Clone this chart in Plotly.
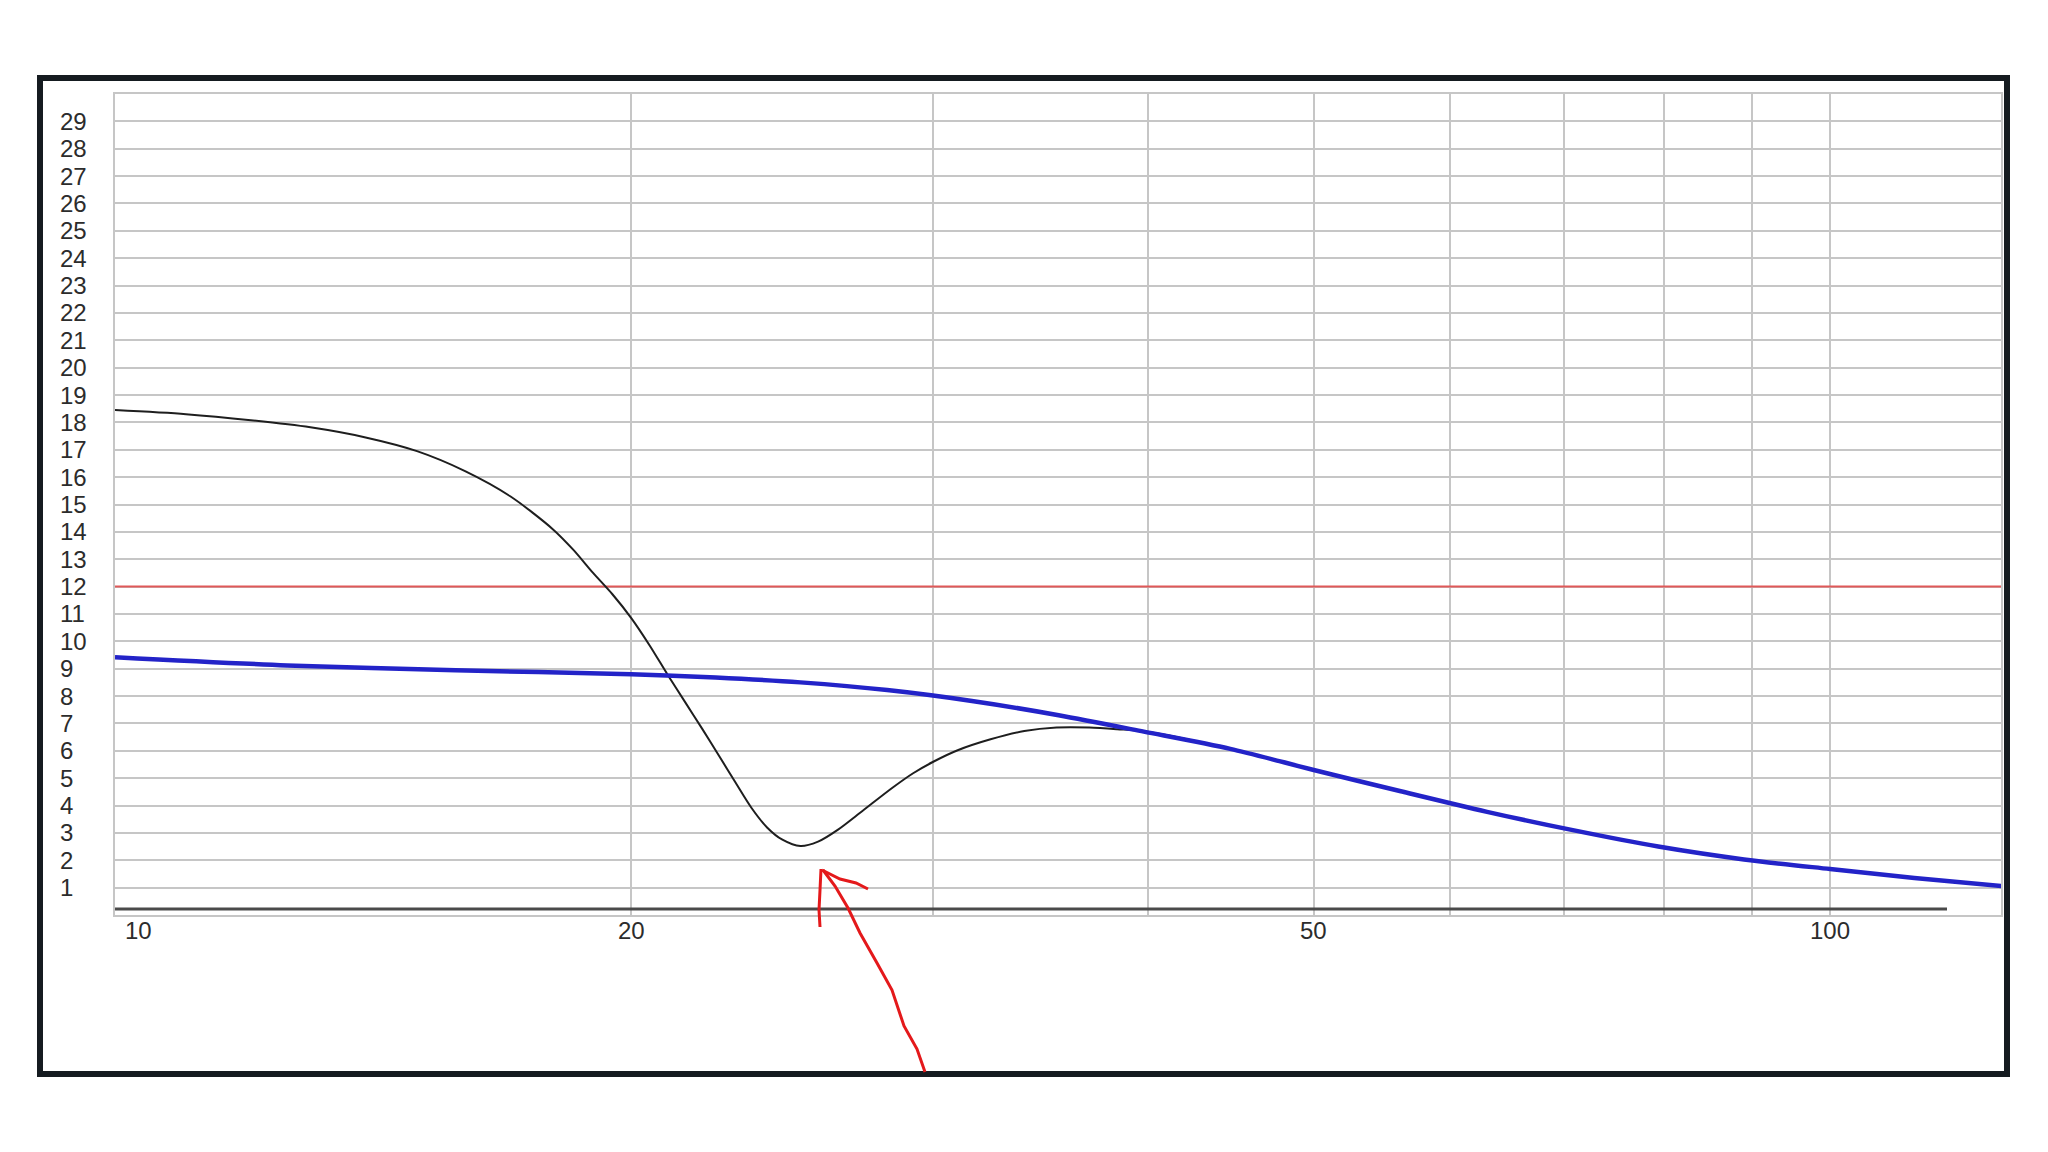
import numpy as np
import plotly.graph_objects as go

# ---- data ----
freq_black = [10, 11, 12, 13, 14, 15, 16, 17, 18, 18.5, 19, 19.5, 20, 20.5, 21, 21.5, 22, 22.5,
              23, 23.5, 24, 24.5, 25.1, 25.7, 26.4, 27.3, 28.4, 29.2, 30, 31, 32.4, 33.9, 35.4,
              37, 38.4, 40, 44.7, 50, 56.2, 63.1, 70.8, 79.4, 89.1, 100, 112, 126]
val_black = [18.45, 18.3, 18.08, 17.82, 17.45, 16.95, 16.22, 15.3, 14.1, 13.35, 12.5, 11.72,
             10.85, 9.85, 8.78, 7.78, 6.8, 5.82, 4.85, 3.92, 3.2, 2.75, 2.52, 2.68, 3.12, 3.82,
             4.65, 5.18, 5.6, 6.02, 6.42, 6.72, 6.85, 6.85, 6.79, 6.7, 6.07, 5.3, 4.52, 3.77,
             3.1, 2.5, 2.03, 1.68, 1.355, 1.055]

freq_blue = [10, 12.6, 15.8, 20, 22.4, 25.1, 28.2, 31.6, 35.5, 39.8, 44.7, 50, 56.2, 63.1, 70.8,
             79.4, 89.1, 100, 112, 126]
val_blue = [9.42, 9.12, 8.94, 8.8, 8.68, 8.5, 8.22, 7.82, 7.3, 6.7, 6.07, 5.3, 4.52, 3.77, 3.1,
            2.5, 2.03, 1.68, 1.355, 1.055]

red_freq = [10, 126]
red_level = 12

y_tick_vals = list(range(1, 30))
x_grid_vals = [10, 20, 30, 40, 50, 60, 70, 80, 90, 100]
x_label_vals = [10, 20, 50, 100]
x_label_text = ["10", "20", "50", "100"]

# ---- layout constants (pixels) ----
W, H = 2048, 1152
L, R, T, B = 115, 2001, 94, 915
PW, PH = R - L, B - T


def px(x):
    return (x - L) / PW


def py(y):
    return (B - y) / PH


FONT = dict(family="Liberation Sans, Arial, sans-serif", size=24, color="#2c2c2c")
GRID = "#c6c6c6"

fig = go.Figure()
fig.add_trace(go.Scatter(x=red_freq, y=[red_level] * len(red_freq), mode="lines",
                         line=dict(color="#e05858", width=2), hoverinfo="skip"))
fig.add_trace(go.Scatter(x=freq_black, y=val_black, mode="lines",
                         line=dict(color="#1e1e1e", width=2, shape="spline", smoothing=0.8)))
fig.add_trace(go.Scatter(x=freq_blue, y=val_blue, mode="lines",
                         line=dict(color="#2323c8", width=4.5, shape="spline", smoothing=0.8)))

annotations = []
for v in y_tick_vals:
    annotations.append(dict(x=px(59), xref="paper", y=v, yref="y", text=str(v),
                            xanchor="left", yanchor="middle", showarrow=False, font=FONT,
                            borderpad=0))
for v, t in zip(x_label_vals, x_label_text):
    annotations.append(dict(x=np.log10(v), xref="x", y=py(930), yref="paper", text=t,
                            xanchor="center", yanchor="middle", showarrow=False, font=FONT,
                            borderpad=0, xshift=23 if v == x_label_vals[0] else 0))

# hand-drawn red arrow (pixel coordinates of the decoration)
arrow_main = [(925, 1072), (917, 1049), (904, 1026), (892, 990), (877, 963), (860, 933),
              (848, 908), (835, 886), (823, 870)]
arrow_left = [(821, 869), (820, 890), (819, 910), (820, 927)]
arrow_right = [(822, 870), (840, 879), (856, 883), (868, 889)]


def path_of(pts):
    return "M " + " L ".join(f"{px(a):.5f},{py(b):.5f}" for a, b in pts)


shapes = [
    # outer dark frame
    dict(type="rect", xref="paper", yref="paper", x0=px(40), x1=px(2007), y0=py(1074), y1=py(78),
         line=dict(color="#151b20", width=6), layer="above"),
    # dark baseline
    dict(type="line", xref="paper", yref="paper", x0=0, x1=px(1947), y0=py(909), y1=py(909),
         line=dict(color="#4a4a4a", width=3), layer="above"),
]
for pts in (arrow_main, arrow_left, arrow_right):
    shapes.append(dict(type="path", xref="paper", yref="paper", path=path_of(pts),
                       line=dict(color="#e4191b", width=3), layer="above"))

fig.update_layout(
    width=W, height=H,
    margin=dict(l=L, r=W - R, t=T, b=H - B, pad=0),
    paper_bgcolor="white", plot_bgcolor="white",
    showlegend=False,
    annotations=annotations,
    shapes=shapes,
    xaxis=dict(type="log", range=[1, 1 + PW / 1715], tickvals=x_grid_vals, showticklabels=False,
               ticks="", showgrid=True, gridcolor=GRID, gridwidth=2, zeroline=False,
               showline=True, linecolor=GRID, linewidth=2, mirror=True),
    yaxis=dict(range=[0, 30], tickvals=list(range(0, 31)), showticklabels=False, ticks="",
               showgrid=True, gridcolor=GRID, gridwidth=2, zeroline=False,
               showline=True, linecolor=GRID, linewidth=2, mirror=True),
)

fig.write_html("out.html", config={"displayModeBar": False},
               post_script="document.body.style.margin='0';document.body.style.overflow='hidden';")
